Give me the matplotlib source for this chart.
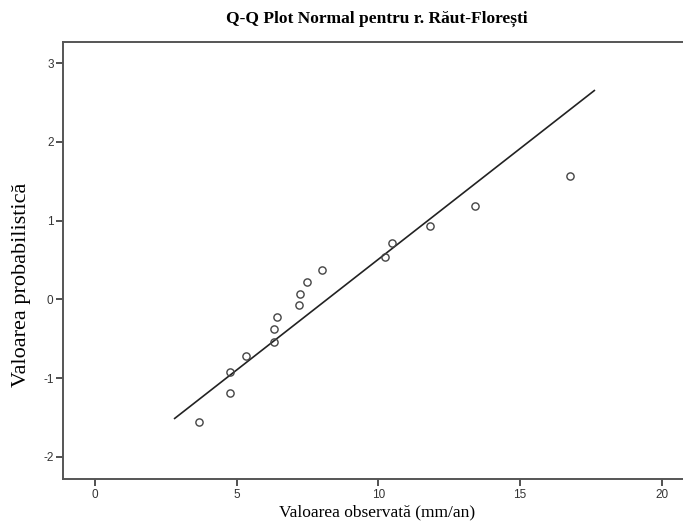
import matplotlib
matplotlib.use("Agg")
import matplotlib.pyplot as plt

plt.rcParams["axes.unicode_minus"] = False

observed = [3.67, 4.76, 4.76, 5.32, 6.32, 6.31, 6.42, 7.20, 7.23, 7.49, 8.01,
            10.22, 10.48, 11.81, 13.41, 16.75]
expected = [-1.565, -1.187, -0.929, -0.722, -0.541, -0.377, -0.223, -0.074,
            0.074, 0.223, 0.377, 0.541, 0.722, 0.929, 1.187, 1.565]
# Reference line endpoints
line_x = [2.78, 17.65]
line_y = [-1.52, 2.66]

x_ticks = [0, 5, 10, 15, 20]
y_ticks = [-2, -1, 0, 1, 2, 3]

fig = plt.figure(figsize=(6.83, 5.24), dpi=100)
ax = fig.add_axes([0.0927, 0.0859, 0.9173, 0.9204 - 0.0859])

ax.plot(line_x, line_y, color="#222222", lw=1.2, solid_capstyle="butt")
ax.plot(observed, expected, linestyle="none", marker="o", markersize=5.2,
        markerfacecolor="none", markeredgecolor="#444444", markeredgewidth=1.0)

ax.set_xlim(-1.13, 21.0)
ax.set_ylim(-2.283, 3.274)
ax.set_xticks(x_ticks)
ax.set_yticks(y_ticks)

for s in ["left", "bottom", "top", "right"]:
    ax.spines[s].set_color("#555555")
    ax.spines[s].set_linewidth(1.4)

ax.tick_params(direction="out", length=5, width=1.2, color="#333333",
               labelsize=8.5, labelcolor="#333333", pad=2)
for lab in ax.get_xticklabels() + ax.get_yticklabels():
    lab.set_family("Liberation Sans")

ax.set_title("Q-Q Plot Normal pentru r. Răut-Florești", family="Liberation Serif",
             fontweight="bold", fontsize=12.5, pad=14)
ax.set_xlabel("Valoarea observată (mm/an)", family="Liberation Serif", fontsize=12.5,
              labelpad=3)
ax.set_ylabel("Valoarea probabilistică", family="Liberation Serif", fontsize=16)
ax.yaxis.set_label_coords(-0.052, 0.445)

fig.savefig("out.png", dpi=100)
